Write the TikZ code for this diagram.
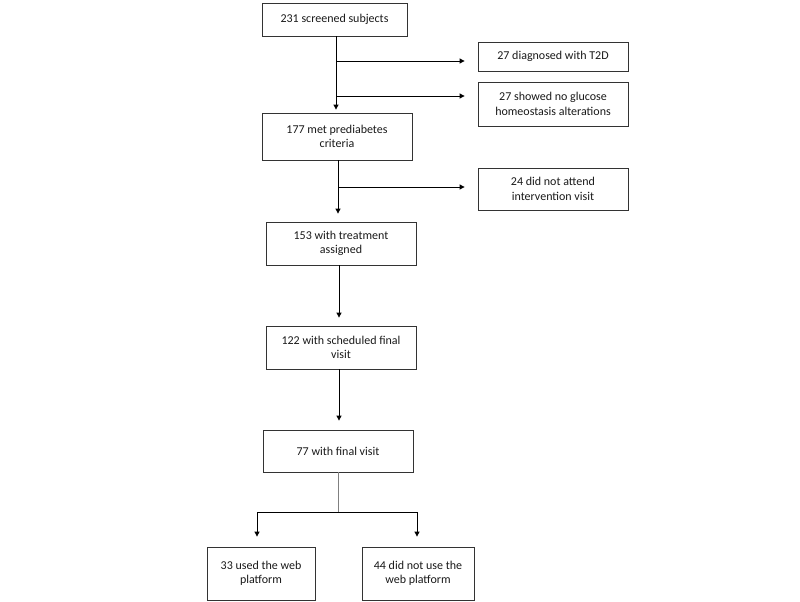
\documentclass[tikz,border=0pt]{standalone}
\usepackage{fontspec}
\setmainfont{Carlito}
\usetikzlibrary{arrows.meta}
\begin{document}
\begin{tikzpicture}[x=1pt,y=-1pt,
  box/.style={draw=black!80,line width=0.8pt,align=center,inner sep=0pt,font=\fontsize{12}{14.5}\selectfont,text=black!90},
  conn/.style={draw=black,line width=0.8pt},
  arr/.style={conn,-{Triangle[length=5pt,width=5pt]}},
  gconn/.style={draw=black!50,line width=0.8pt}]
\useasboundingbox (0,0) rectangle (800,602);
\node[box,minimum width=145pt,minimum height=33pt] (s) at (334.5,19.5) {231 screened subjects};
\node[box,minimum width=150pt,minimum height=29pt] (t2d) at (553,56.5) {27 diagnosed with T2D};
\node[box,minimum width=150pt,minimum height=44pt] (ng) at (553,104) {27 showed no glucose\\homeostasis alterations};
\node[box,minimum width=150pt,minimum height=47pt] (pd) at (337,136.5) {177 met prediabetes\\criteria};
\node[box,minimum width=150pt,minimum height=42pt] (na) at (553,189) {24 did not attend\\intervention visit};
\node[box,minimum width=150pt,minimum height=43pt] (tr) at (341,243.5) {153 with treatment\\assigned};
\node[box,minimum width=150pt,minimum height=43pt] (sf) at (341,347.5) {122 with scheduled final\\visit};
\node[box,minimum width=150pt,minimum height=42pt] (fv) at (338,451) {77 with final visit};
\node[box,minimum width=108pt,minimum height=53pt] (web) at (261,573.5) {33 used the web\\platform};
\node[box,minimum width=112pt,minimum height=53pt] (noweb) at (418,573.5) {44 did not use the\\web platform};
\coordinate (b1) at (336,61);
\coordinate (b2) at (336,96);
\coordinate (b3) at (338,187);
\coordinate (j) at (338,512);
\draw[arr] (s.south -| b1) -- ([yshift=3pt]pd.north -| b1);
\draw[arr] (b1) -- ([xshift=-13pt]t2d.west |- b1);
\draw[arr] (b2) -- ([xshift=-13pt]ng.west |- b2);
\draw[arr] (pd.south -| b3) -- ([yshift=8pt]tr.north -| b3);
\draw[arr] (b3) -- ([xshift=-13pt]na.west |- b3);
\draw[arr] (tr.south -| 339,0) -- ([yshift=8pt]sf.north -| 339,0);
\draw[arr] (sf.south -| 339,0) -- ([yshift=9pt]fv.north -| 339,0);
\draw[gconn] (fv.south -| j) -- (j);
\draw[arr] (j) -| ([yshift=10pt]web.north -| 257,0);
\draw[arr] (j) -| ([yshift=10pt]noweb.north -| 417,0);
\end{tikzpicture}
\end{document}
